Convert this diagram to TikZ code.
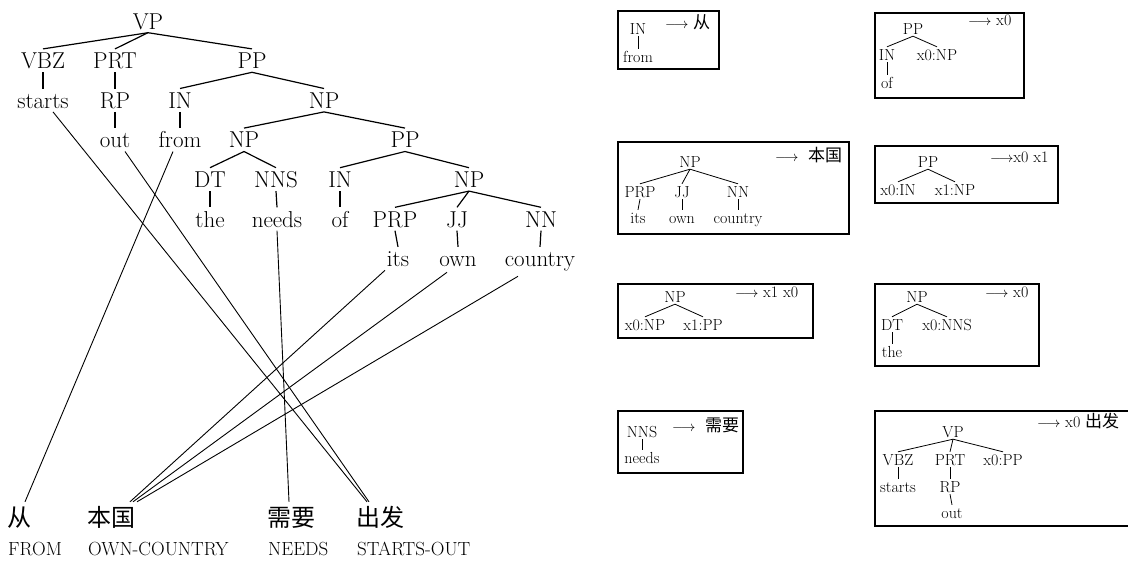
\documentclass[tikz,border=0pt]{standalone}
\usepackage{fontspec}
\newfontfamily\cjk{Noto Sans CJK SC}
\usetikzlibrary{calc}
\newcommand{\ruleArrow}{{\fontsize{13.5}{16}\selectfont$\longrightarrow$}}
\newcommand{\cjks}[1]{{\cjk\fontsize{17}{20}\selectfont #1}}
\tikzset{
 tn/.style={font=\fontsize{23}{27}\selectfont, anchor=base, inner xsep=0pt, inner ysep=3.5pt, text height=16pt, text depth=0pt},
 rn/.style={font=\fontsize{16}{19}\selectfont, anchor=base, inner xsep=0pt, inner ysep=2pt, text height=11pt, text depth=0pt},
 te/.style={line width=1.2pt},
 re/.style={line width=0.8pt},
 al/.style={line width=0.9pt},
 rbox/.style={draw, line width=2.2pt, inner sep=0pt, anchor=north west},
 cjkn/.style={font=\cjk\fontsize{24}{28}\selectfont, anchor=base west, inner sep=0pt, text height=24pt, text depth=0pt},
 gl/.style={font=\fontsize{19}{22}\selectfont, anchor=base west, inner sep=0pt},
 rhs/.style={font=\fontsize{16}{19}\selectfont, anchor=base west, inner sep=0pt},
}
\begin{document}
\begin{tikzpicture}[x=1pt,y=-1pt]
\useasboundingbox[fill=white] (0,0) rectangle (1128,560);
% main tree
\node[tn] (vp) at (148,29) {VP};
\node[tn] (vbz) at (43,68.6) {VBZ};
\node[tn] (prt) at (115,68.6) {PRT};
\node[tn] (pp1) at (252,68.6) {PP};
\node[tn] (starts) at (43,108.2) {starts};
\node[tn] (rp) at (115,108.2) {RP};
\node[tn] (in1) at (180,108.2) {IN};
\node[tn] (np1) at (324,108.2) {NP};
\node[tn] (out) at (115,147.8) {out};
\node[tn] (from) at (180,147.8) {from};
\node[tn] (np2) at (244,147.8) {NP};
\node[tn] (pp2) at (405,147.8) {PP};
\node[tn] (dt) at (210,187.4) {DT};
\node[tn] (nns) at (276,187.4) {NNS};
\node[tn] (in2) at (340,187.4) {IN};
\node[tn] (np3) at (469,187.4) {NP};
\node[tn] (the) at (210,227) {the};
\node[tn] (needs) at (277,227) {needs};
\node[tn] (of) at (340,227) {of};
\node[tn] (prp) at (395,227) {PRP};
\node[tn] (jj) at (457,227) {JJ};
\node[tn] (nn) at (541,227) {NN};
\node[tn] (its) at (398,266.6) {its};
\node[tn] (own) at (458,266.6) {own};
\node[tn] (country) at (540,266.6) {country};
\foreach \a/\b in {vp/vbz,vp/prt,vp/pp1,vbz/starts,prt/rp,rp/out,pp1/in1,pp1/np1,in1/from,np1/np2,np1/pp2,np2/dt,np2/nns,dt/the,nns/needs,pp2/in2,pp2/np3,in2/of,np3/prp,np3/jj,np3/nn,prp/its,jj/own,nn/country}
  \draw[te] (\a.south) -- (\b.north);
% target words
\node[cjkn] (c1) at (7,526) {从};
\node[cjkn] (c2) at (87,526) {本国};
\node[cjkn] (c3) at (267,526) {需要};
\node[cjkn] (c4) at (356,526) {出发};
\node[gl] (e1) at (8,555) {FROM};
\node[gl] (e2) at (88,555) {OWN-COUNTRY};
\node[gl] (e3) at (268,555) {NEEDS};
\node[gl] (e4) at (357,555) {STARTS-OUT};
% alignments
\draw[al] ($(starts.south)+(10,0)$) -- ($(c4.north west)+(11,0)$);
\draw[al] ($(out.south)+(10,0)$) -- ($(c4.north west)+(13,0)$);
\draw[al] ($(from.south)+(-7,0)$) -- ($(c1.north west)+(18,0)$);
\draw[al] (needs.south) -- ($(c3.north west)+(22,0)$);
\draw[al] ($(its.south)+(-13,0)$) -- ($(c2.north west)+(43,0)$);
\draw[al] ($(own.south)+(-11,2)$) -- ($(c2.north west)+(46,0)$);
\draw[al] ($(country.south)+(-22,6)$) -- ($(c2.north west)+(50,0)$);
% rule boxes
\node[rbox, minimum width=101pt, minimum height=58pt] (b1) at (617,10) {};
\node[rbox, minimum width=149pt, minimum height=85pt] (b2) at (874,12) {};
\node[rbox, minimum width=231pt, minimum height=92pt] (b3) at (617,141) {};
\node[rbox, minimum width=183pt, minimum height=57pt] (b4) at (874,145) {};
\node[rbox, minimum width=195pt, minimum height=54pt] (b5) at (617,283) {};
\node[rbox, minimum width=164pt, minimum height=82pt] (b6) at (874,283) {};
\node[rbox, minimum width=125pt, minimum height=62pt] (b7) at (617,410) {};
\node[rbox, minimum width=262pt, minimum height=115pt] (b8) at (874,410) {};
% rule 1
\node[rn] (a1) at (638,34) {IN};
\node[rn] (a2) at (638,62) {from};
\draw[re] (a1.south) -- (a2.north);
\node[rhs] (ar) at (665,28) {\ruleArrow\ \cjks{从}};
% rule 2
\node[rn] (b2pp) at (913,34) {PP};
\node[rn] (b2in) at (887,60) {IN};
\node[rn] (b2np) at (937,60) {x0:NP};
\node[rn] (b2of) at (887,88) {of};
\draw[re] (b2pp.south) -- (b2in.north);
\draw[re] (b2pp.south) -- (b2np.north);
\draw[re] (b2in.south) -- (b2of.north);
\node[rhs] (b2r) at (968,25) {\ruleArrow\ x0};
% rule 3
\node[rn] (c3np) at (690,167) {NP};
\node[rn] (c3prp) at (640,197) {PRP};
\node[rn] (c3jj) at (682,197) {JJ};
\node[rn] (c3nn) at (738,197) {NN};
\node[rn] (c3its) at (638,223) {its};
\node[rn] (c3own) at (682,223) {own};
\node[rn] (c3cty) at (738,223) {country};
\foreach \a/\b in {c3np/c3prp,c3np/c3jj,c3np/c3nn,c3prp/c3its,c3jj/c3own,c3nn/c3cty}
  \draw[re] (\a.south) -- (\b.north);
\node[rhs] (c3r) at (775,161) {\ruleArrow\ \ \cjks{本国}};
% rule 4
\node[rn] (d4pp) at (928,167) {PP};
\node[rn] (d4in) at (898,195) {x0:IN};
\node[rn] (d4np) at (955,195) {x1:NP};
\draw[re] (d4pp.south) -- (d4in.north);
\draw[re] (d4pp.south) -- (d4np.north);
\node[rhs] (d4r) at (990,162) {\ruleArrow x0 x1};
% rule 5
\node[rn] (e5np) at (675,302) {NP};
\node[rn] (e5a) at (645,330) {x0:NP};
\node[rn] (e5b) at (703,330) {x1:PP};
\draw[re] (e5np.south) -- (e5a.north);
\draw[re] (e5np.south) -- (e5b.north);
\node[rhs] (e5r) at (735,297) {\ruleArrow\ x1 x0};
% rule 6
\node[rn] (f6np) at (917,302) {NP};
\node[rn] (f6dt) at (892,330) {DT};
\node[rn] (f6nns) at (947,330) {x0:NNS};
\node[rn] (f6the) at (892,357) {the};
\draw[re] (f6np.south) -- (f6dt.north);
\draw[re] (f6np.south) -- (f6nns.north);
\draw[re] (f6dt.south) -- (f6the.north);
\node[rhs] (f6r) at (985,297) {\ruleArrow\ x0};
% rule 7
\node[rn] (g7nns) at (642,437) {NNS};
\node[rn] (g7needs) at (642,463) {needs};
\draw[re] (g7nns.south) -- (g7needs.north);
\node[rhs] (g7r) at (672,431) {\ruleArrow\ \ \cjks{需要}};
% rule 8
\node[rn] (h8vp) at (953,437) {VP};
\node[rn] (h8vbz) at (898,465) {VBZ};
\node[rn] (h8prt) at (950,465) {PRT};
\node[rn] (h8pp) at (1003,465) {x0:PP};
\node[rn] (h8st) at (898,492) {starts};
\node[rn] (h8rp) at (950,492) {RP};
\node[rn] (h8out) at (952,518) {out};
\foreach \a/\b in {h8vp/h8vbz,h8vp/h8prt,h8vp/h8pp,h8vbz/h8st,h8prt/h8rp,h8rp/h8out}
  \draw[re] (\a.south) -- (\b.north);
\node[rhs] (h8r) at (1037,427) {\ruleArrow\ x0 \cjks{出发}};
\end{tikzpicture}
\end{document}
